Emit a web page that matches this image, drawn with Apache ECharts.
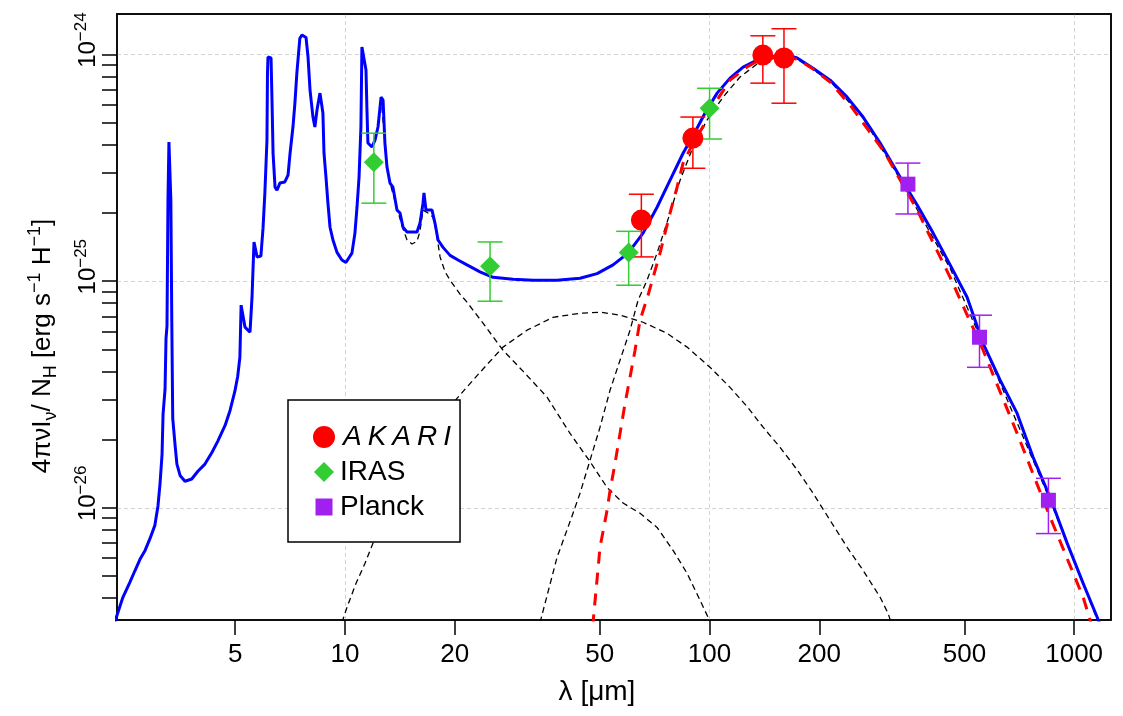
<!DOCTYPE html>
<html><head><meta charset="utf-8">
<script src="https://cdn.jsdelivr.net/npm/echarts@6/dist/echarts.min.js"></script>
<style>html,body{margin:0;padding:0;background:#fff}#c{width:1123px;height:716px}</style>
</head><body><div id="c"></div>
<script>
// ---- tick values ----
const xTickValues = [5, 10, 20, 50, 100, 200, 500, 1000];
const yLabelValues = [1e-26, 1e-25, 1e-24];
const yTickValues = [4e-27, 5e-27, 6e-27, 7e-27, 8e-27, 9e-27,
  1e-26, 2e-26, 3e-26, 4e-26, 5e-26, 6e-26, 7e-26, 8e-26, 9e-26,
  1e-25, 2e-25, 3e-25, 4e-25, 5e-25, 6e-25, 7e-25, 8e-25, 9e-25, 1e-24];

// ---- total model (blue) ----
const blueWave = [2.3, 2.46, 2.57, 2.65, 2.74, 2.83, 2.92, 3.01, 3.07, 3.11, 3.15, 3.17, 3.21, 3.23, 3.25, 3.27, 3.29, 3.33, 3.35, 3.37, 3.42, 3.46, 3.53, 3.64, 3.80, 3.95, 4.13, 4.32, 4.48, 4.69, 4.84, 4.99, 5.08, 5.15, 5.19, 5.25, 5.32, 5.42, 5.49, 5.56, 5.63, 5.74, 5.88, 5.96, 6.03, 6.11, 6.13, 6.15, 6.27, 6.31, 6.35, 6.43, 6.51, 6.63, 6.84, 6.98, 7.07, 7.20, 7.29, 7.38, 7.52, 7.62, 7.82, 7.92, 8.02, 8.17, 8.27, 8.38, 8.54, 8.70, 8.76, 8.87, 8.98, 9.10, 9.27, 9.51, 9.81, 10.06, 10.45, 10.65, 10.79, 10.93, 11.06, 11.13, 11.27, 11.42, 11.49, 11.56, 11.86, 12.09, 12.32, 12.56, 12.72, 12.87, 13.04, 13.29, 13.54, 13.89, 14.16, 14.43, 14.80, 15.76, 16.06, 16.37, 16.47, 16.68, 16.89, 17.33, 17.66, 18.00, 18.58, 19.42, 20.42, 21.61, 23.46, 25.47, 28.91, 32.81, 38.16, 44.13, 49.14, 54.37, 59.77, 65.72, 71.78, 77.93, 84.59, 91.24, 97.20, 104.9, 113.8, 123.6, 135.0, 146.6, 163.2, 173.9, 192.3, 214.1, 238.4, 263.7, 293.7, 333.1, 371.0, 410.5, 456.9, 508.6, 562.7, 626.6, 697.6, 771.8, 859.5, 957.2, 1058.6, 1156.6, 1180];
const blueFlux = [2.9e-27, 4.03e-27, 4.69e-27, 5.25e-27, 5.93e-27, 6.49e-27, 7.33e-27, 8.37e-27, 1.02e-26, 1.28e-26, 1.72e-26, 2.59e-26, 3.33e-26, 5.60e-26, 6.33e-26, 2.28e-25, 4.11e-25, 2.28e-25, 6.59e-26, 2.48e-26, 1.89e-26, 1.56e-26, 1.39e-26, 1.31e-26, 1.34e-26, 1.45e-26, 1.56e-26, 1.76e-26, 1.97e-26, 2.31e-26, 2.69e-26, 3.27e-26, 3.81e-26, 4.62e-26, 7.84e-26, 8.00e-26, 6.27e-26, 6.08e-26, 5.96e-26, 8.50e-26, 1.49e-25, 1.28e-25, 1.29e-25, 1.71e-25, 2.45e-25, 4.19e-25, 8.28e-25, 9.75e-25, 9.66e-25, 6.11e-25, 3.67e-25, 2.60e-25, 2.52e-25, 2.71e-25, 2.74e-25, 2.94e-25, 3.67e-25, 4.79e-25, 6.11e-25, 8.28e-25, 1.18e-24, 1.22e-24, 1.19e-24, 9.75e-25, 6.97e-25, 5.30e-25, 4.79e-25, 5.69e-25, 6.76e-25, 5.52e-25, 3.67e-25, 2.88e-25, 2.21e-25, 1.73e-25, 1.52e-25, 1.34e-25, 1.24e-25, 1.21e-25, 1.33e-25, 1.63e-25, 2.12e-25, 2.88e-25, 4.79e-25, 1.08e-24, 1.10e-24, 8.55e-25, 5.69e-25, 4.07e-25, 3.91e-25, 4.19e-25, 4.79e-25, 6.49e-25, 6.30e-25, 4.07e-25, 3.19e-25, 2.71e-25, 2.60e-25, 2.06e-25, 2.00e-25, 1.73e-25, 1.65e-25, 1.65e-25, 1.80e-25, 2.21e-25, 2.45e-25, 2.06e-25, 2.10e-25, 2.06e-25, 1.80e-25, 1.52e-25, 1.41e-25, 1.30e-25, 1.24e-25, 1.18e-25, 1.10e-25, 1.04e-25, 1.02e-25, 1.01e-25, 1.01e-25, 1.03e-25, 1.08e-25, 1.18e-25, 1.33e-25, 1.63e-25, 2.12e-25, 2.79e-25, 3.67e-25, 4.55e-25, 5.52e-25, 6.76e-25, 7.87e-25, 8.81e-25, 9.46e-25, 9.75e-25, 9.95e-25, 9.66e-25, 8.71e-25, 7.71e-25, 6.49e-25, 5.30e-25, 4.07e-25, 2.88e-25, 2.17e-25, 1.63e-25, 1.18e-25, 8.50e-26, 5.32e-26, 3.66e-26, 2.61e-26, 1.67e-26, 1.11e-26, 6.97e-27, 4.64e-27, 3.29e-27, 3.03e-27];

// ---- red dashed model ----
const redWave = [47.8, 50.07, 52.34, 53.33, 55.04, 56.81, 58.64, 60.52, 62.46, 64.47, 67.8, 73.14, 77.93, 81.45, 84.59, 90.09, 98.42, 104.9, 113.8, 126.7, 140.2, 156.1, 173.9, 192.3, 214.1, 243.0, 303.1, 371.0, 456.9, 562.7, 697.6, 859.5, 1058.6, 1106.5, 1130];
const redFlux = [3.0e-27, 6.70e-27, 9.75e-27, 1.19e-26, 1.57e-26, 2.13e-26, 2.89e-26, 3.77e-26, 4.96e-26, 6.73e-26, 8.67e-26, 1.33e-25, 2.00e-25, 2.60e-25, 3.32e-25, 4.07e-25, 5.14e-25, 6.30e-25, 7.71e-25, 8.81e-25, 9.66e-25, 9.75e-25, 9.55e-25, 8.63e-25, 7.56e-25, 5.98e-25, 3.67e-25, 2.06e-25, 1.04e-25, 4.96e-26, 2.13e-26, 9.08e-27, 4.03e-27, 3.19e-27, 2.8e-27];

// ---- black dashed components ----
const compAWave = [12.56, 12.87, 13.12, 13.46, 13.98, 14.43, 14.80, 15.27, 15.76, 16.06, 16.37, 16.47, 16.89, 17.43, 17.77, 18.23, 18.82, 19.42, 20.68, 21.61, 23.91, 27.13, 30.78, 35.83, 41.43, 47.00, 52.34, 57.91, 64.47, 71.78, 79.42, 86.78, 94.17, 99.06, 100.9];
const compAFlux = [6.49e-25, 4.07e-25, 2.94e-25, 2.52e-25, 2.02e-25, 1.70e-25, 1.52e-25, 1.46e-25, 1.50e-25, 1.66e-25, 2.06e-25, 2.10e-25, 2.00e-25, 1.92e-25, 1.68e-25, 1.28e-25, 1.10e-25, 1.01e-25, 8.77e-26, 8.08e-26, 6.53e-26, 4.96e-26, 4.01e-26, 3.08e-26, 2.13e-26, 1.60e-26, 1.23e-26, 1.05e-26, 9.46e-27, 8.20e-27, 6.49e-27, 5.14e-27, 3.91e-27, 3.29e-27, 3.03e-27];
const compBWave = [9.81, 10.13, 10.72, 11.35, 11.93, 14.16, 17.11, 20.29, 23.46, 27.13, 31.58, 37.21, 44.13, 50.07, 56.81, 65.72, 76.46, 86.78, 100.3, 113.8, 126.7, 140.2, 156.1, 173.9, 192.3, 214.1, 238.4, 263.7, 293.7, 308.9, 314.7];
const compBFlux = [3.12e-27, 3.64e-27, 4.64e-27, 5.69e-27, 6.97e-27, 1.27e-26, 2.15e-26, 3.04e-26, 3.96e-26, 5.12e-26, 6.08e-26, 6.93e-26, 7.22e-26, 7.30e-26, 7.08e-26, 6.59e-26, 5.89e-26, 5.12e-26, 4.17e-26, 3.40e-26, 2.80e-26, 2.27e-26, 1.85e-26, 1.47e-26, 1.16e-26, 8.81e-27, 6.70e-27, 5.30e-27, 4.03e-27, 3.42e-27, 3.12e-27];
const compCWave = [34.28, 38.16, 42.22, 44.13, 47.00, 50.07, 53.33, 56.81, 60.52, 63.66, 67.38, 71.78, 77.93, 83.02, 90.09, 98.42, 108.9, 121.2, 135.0, 151.2, 173.9, 214.1, 263.7, 333.1, 456.9, 626.6, 859.5, 1156.6, 1180];
const compCFlux = [3.12e-27, 6.04e-27, 9.46e-27, 1.16e-26, 1.62e-26, 2.27e-26, 3.30e-26, 4.48e-26, 6.08e-26, 8.24e-26, 1.01e-25, 1.33e-25, 2.00e-25, 2.79e-25, 3.91e-25, 5.14e-25, 6.49e-25, 7.96e-25, 9.08e-25, 9.66e-25, 9.55e-25, 7.64e-25, 5.25e-25, 2.82e-25, 1.14e-25, 3.55e-26, 1.08e-26, 3.22e-27, 2.95e-27];

// ---- observations ----
const akariWave = [65, 90, 140, 160];
const akariFlux = [1.86e-25, 4.28e-25, 9.95e-25, 9.66e-25];
const akariLow = [1.28e-25, 3.15e-25, 7.48e-25, 6.1e-25];
const akariHigh = [2.42e-25, 5.3e-25, 1.21e-24, 1.30e-24];
const irasWave = [12, 25, 60, 100];
const irasFlux = [3.35e-25, 1.165e-25, 1.34e-25, 5.8e-25];
const irasLow = [2.21e-25, 8.16e-26, 9.6e-26, 4.24e-25];
const irasHigh = [4.5e-25, 1.49e-25, 1.66e-25, 7.1e-25];
const planckWave = [350, 550, 850];
const planckFlux = [2.68e-25, 5.66e-26, 1.08e-26];
const planckLow = [1.98e-25, 4.17e-26, 7.7e-27];
const planckHigh = [3.32e-25, 7.08e-26, 1.35e-26];

// flux values are plotted in units of 1e-27 (log-axis precision); labels convert back
const Y_UNIT = 1e-27;

const FONT = "'Liberation Sans', Arial, sans-serif";
const S = { tick: 26, ylab: 24, ysup: 17, name: 26, nsub: 18, leg: 28 };

const RED = '#FF0000', GREEN = '#32CD32', PURPLE = '#A020F0', BLUE = '#0000FF';
const GRIDLINE = { show: true, showMinLine: false, showMaxLine: false, lineStyle: { color: '#D3D3D3', width: 1, type: [4, 3] } };

const zip = (a, b) => a.map((v, i) => [v, b[i] / Y_UNIT]);
const zip3 = (a, b, c) => a.map((v, i) => [v, b[i] / Y_UNIT, c[i] / Y_UNIT]);

function errBar(color) {
  return function (params, api) {
    const x = api.value(0);
    const pLo = api.coord([x, api.value(1)]);
    const pHi = api.coord([x, api.value(2)]);
    const hw = 12.5;
    const st = { stroke: color, lineWidth: 1.5, fill: null };
    return { type: 'group', children: [
      { type: 'line', shape: { x1: pLo[0], y1: pLo[1], x2: pHi[0], y2: pHi[1] }, style: st },
      { type: 'line', shape: { x1: pLo[0] - hw, y1: pLo[1], x2: pLo[0] + hw, y2: pLo[1] }, style: st },
      { type: 'line', shape: { x1: pHi[0] - hw, y1: pHi[1], x2: pHi[0] + hw, y2: pHi[1] }, style: st }
    ]};
  };
}

function dashedComp(name, w, f) {
  return { name: name, type: 'line', data: zip(w, f), showSymbol: false, silent: true, z: 2,
    lineStyle: { color: '#000', width: 1.3, type: [6, 4] } };
}

const X_MIN = 2.37, X_MAX = 1262, Y_MIN = 3.2e-27 / Y_UNIT, Y_MAX = 1.51e-24 / Y_UNIT;
const BOX = { show: true, lineStyle: { color: '#000', width: 1.5 } };

const chart = echarts.init(document.getElementById('c'), null, { renderer: 'canvas' });
const option = {
  animation: false,
  backgroundColor: '#fff',
  grid: { left: 117, right: 12, top: 14, bottom: 96, show: true, borderColor: '#000', borderWidth: 1.5 },
  xAxis: [{
    type: 'log', logBase: 10, min: X_MIN, max: X_MAX,
    name: 'λ [μm]', nameLocation: 'middle', nameGap: 58,
    nameTextStyle: { fontSize: 28, lineHeight: 28, color: '#000', fontFamily: FONT, padding: [0, 34, 0, 0] },
    axisLine: BOX,
    axisTick: { show: true, inside: false, length: 15, customValues: xTickValues, lineStyle: { color: '#000', width: 1.5 } },
    axisLabel: { customValues: xTickValues, fontSize: S.tick, lineHeight: S.tick, color: '#000', fontFamily: FONT, margin: 22,
      formatter: v => String(v) },
    splitLine: { show: false }
  }, {
    type: 'log', logBase: 10, min: X_MIN, max: X_MAX, position: 'top',
    axisLine: BOX, axisTick: { show: false }, axisLabel: { show: false },
    splitLine: GRIDLINE
  }],
  yAxis: [{
    type: 'log', logBase: 10, min: Y_MIN, max: Y_MAX,
    name: '{n|4πνI}{sb|ν}{n|/ N}{sb|H}{n| [erg s}{sp|−1}{n| H}{sp|−1}{n|]}',
    nameLocation: 'middle', nameRotate: 90, nameGap: 57,
    nameTextStyle: { color: '#000', fontFamily: FONT, padding: [0, 58, 0, 0], rich: {
      n: { fontSize: S.name, fontFamily: FONT, color: '#000', lineHeight: S.name + 8 },
      sb: { fontSize: S.nsub, fontFamily: FONT, color: '#000', verticalAlign: 'bottom', lineHeight: S.nsub },
      sp: { fontSize: S.nsub, fontFamily: FONT, color: '#000', verticalAlign: 'top', lineHeight: S.nsub }
    } },
    axisLine: BOX,
    axisTick: { show: true, inside: false, length: 15, customValues: yTickValues.map(v => v / Y_UNIT), lineStyle: { color: '#000', width: 1.5 } },
    axisLabel: { customValues: yLabelValues.map(v => v / Y_UNIT), rotate: 90, margin: 14, color: '#000', fontFamily: FONT,
      formatter: v => { const e = Math.round(Math.log10(v * Y_UNIT)); return '{p| }{b|10}{s|' + (e < 0 ? '−' + (-e) : e) + '}'; },
      rich: {
        p: { fontSize: S.ysup, width: 29, lineHeight: S.ylab },
        b: { fontSize: S.ylab, fontFamily: FONT, color: '#000', lineHeight: S.ylab + 6 },
        s: { fontSize: S.ysup, fontFamily: FONT, color: '#000', verticalAlign: 'top', lineHeight: S.ysup }
      } },
    splitLine: { show: false }
  }, {
    type: 'log', logBase: 10, min: Y_MIN, max: Y_MAX, position: 'right',
    axisLine: BOX, axisTick: { show: false }, axisLabel: { show: false },
    splitLine: GRIDLINE
  }],
  legend: {
    orient: 'vertical', left: 288, top: 400,
    padding: [21, 6, 19, 25],
    itemWidth: 22, itemHeight: 22, itemGap: 3,
    backgroundColor: '#fff', borderColor: '#000', borderWidth: 1.5, borderRadius: 0,
    selectedMode: false,
    textStyle: { fontSize: S.leg, color: '#000', fontFamily: FONT, lineHeight: 32,
      rich: { ak: { fontSize: S.leg, fontStyle: 'italic', color: '#000', fontFamily: FONT, lineHeight: 32, padding: [0, 3, 0, 3] } } },
    formatter: name => name === 'AKARI' ? '{ak|A}{ak|K}{ak|A}{ak|R}{ak|I}' : name,
    data: [
      { name: 'AKARI', icon: 'circle' },
      { name: 'IRAS', icon: 'path://M0,0M22,22M11,1L21,11L11,21L1,11Z' },
      { name: 'Planck', icon: 'path://M0,0M22,22M2.5,2.5L19.5,2.5L19.5,19.5L2.5,19.5Z' }
    ]
  },
  series: [
    dashedComp('comp A', compAWave, compAFlux),
    dashedComp('comp B', compBWave, compBFlux),
    dashedComp('comp C', compCWave, compCFlux),
    { name: 'total', type: 'line', data: zip(blueWave, blueFlux), showSymbol: false, silent: true, z: 3,
      lineStyle: { color: BLUE, width: 3 } },
    { name: 'fit', type: 'line', data: zip(redWave, redFlux), showSymbol: false, silent: true, z: 4,
      lineStyle: { color: RED, width: 3, type: [12, 9] } },
    { name: 'AKARI err', type: 'custom', renderItem: errBar(RED), data: zip3(akariWave, akariLow, akariHigh), encode: { x: 0, y: [1, 2] }, z: 5, silent: true },
    { name: 'IRAS err', type: 'custom', renderItem: errBar(GREEN), data: zip3(irasWave, irasLow, irasHigh), encode: { x: 0, y: [1, 2] }, z: 5, silent: true },
    { name: 'Planck err', type: 'custom', renderItem: errBar(PURPLE), data: zip3(planckWave, planckLow, planckHigh), encode: { x: 0, y: [1, 2] }, z: 5, silent: true },
    { name: 'AKARI', type: 'scatter', data: zip(akariWave, akariFlux), symbol: 'circle', symbolSize: 21, z: 6, itemStyle: { color: RED, opacity: 1 } },
    { name: 'IRAS', type: 'scatter', data: zip(irasWave, irasFlux), symbol: 'diamond', symbolSize: 20, z: 6, itemStyle: { color: GREEN, opacity: 1 } },
    { name: 'Planck', type: 'scatter', data: zip(planckWave, planckFlux), symbol: 'rect', symbolSize: 15, z: 6, itemStyle: { color: PURPLE, opacity: 1 } }
  ]
};
chart.setOption(option);
</script></body></html>
